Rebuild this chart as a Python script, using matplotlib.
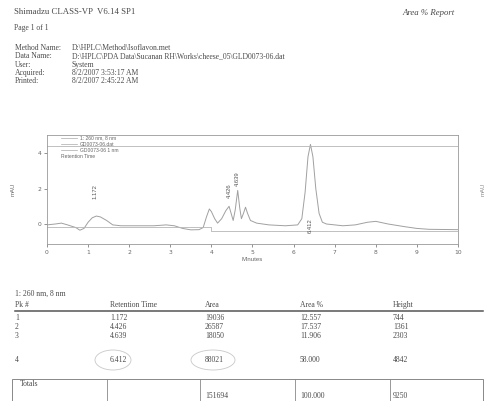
import matplotlib.pyplot as plt
from matplotlib.patches import Rectangle, Ellipse
import numpy as np

# chromatogram trace (minutes, mAU)
trace_t = [0.0, 0.2, 0.35, 0.5, 0.7, 0.8, 0.9, 1.0, 1.1, 1.2, 1.3, 1.45, 1.6, 1.8,
           2.2, 2.6, 2.9, 3.1, 3.3, 3.5, 3.7, 3.8, 3.88, 3.95, 4.0, 4.08, 4.15, 4.25,
           4.35, 4.43, 4.48, 4.53, 4.58, 4.64, 4.69, 4.73, 4.78, 4.83, 4.88, 4.95,
           5.1, 5.4, 5.8, 6.1, 6.2, 6.28, 6.35, 6.41, 6.47, 6.54, 6.62, 6.7, 6.8,
           7.2, 7.5, 7.8, 8.0, 8.3, 8.7, 9.0, 9.3, 10.0]
trace_v = [-0.05, 0.0, 0.05, -0.05, -0.2, -0.35, -0.25, 0.1, 0.35, 0.45, 0.4, 0.2, -0.05, -0.1,
           -0.1, -0.1, -0.05, -0.1, -0.25, -0.33, -0.32, -0.2, 0.4, 0.85, 0.7, 0.3, 0.05, 0.3,
           0.75, 1.0, 0.6, 0.2, 0.8, 1.9, 0.9, 0.3, 0.6, 0.95, 0.6, 0.2,
           0.05, -0.05, -0.1, -0.05, 0.3, 1.8, 3.8, 4.5, 3.8, 2.0, 0.6, 0.1, 0.0,
           -0.1, -0.05, 0.1, 0.15, 0.0, -0.15, -0.25, -0.3, -0.32]
base_t = [0.0, 4.0, 4.0, 10.0]
base_v = [-0.15, -0.15, -0.38, -0.38]

# peak table
pk_num = ["1", "2", "3", "4"]
pk_rt = [1.172, 4.426, 4.639, 6.412]
pk_area = [19036, 26587, 18050, 88021]
pk_area_pct = [12.557, 17.537, 11.906, 58.000]
pk_height = [744, 1361, 2303, 4842]
pk_label_y = [1.85, 1.9, 2.55, -0.1]

W, H = 485, 401
fig = plt.figure(figsize=(W / 100, H / 100), dpi=100)
fig.patch.set_facecolor("white")
ink = "#4a4a4a"
serif = "Liberation Serif"
sans = "Liberation Sans"


def put(x, y, s, size=5.5, **kw):
    kw.setdefault("family", serif)
    kw.setdefault("color", ink)
    kw.setdefault("va", "center")
    fig.text(x / W, 1 - y / H, s, fontsize=size, **kw)


# header
put(14, 12, "Shimadzu CLASS-VP  V6.14 SP1", size=6.3)
put(402, 13, "Area % Report", size=6.3, style="italic")
put(14, 28, "Page 1 of 1", size=5.5)
labels = ["Method Name:", "Data Name:", "User:", "Acquired:", "Printed:"]
values = ["D:\\HPLC\\Method\\Isoflavon.met",
          "D:\\HPLC\\PDA Data\\Sucanan RH\\Works\\cheese_05\\GLD0073-06.dat",
          "System", "8/2/2007 3:53:17 AM", "8/2/2007 2:45:22 AM"]
for i, (a, b) in enumerate(zip(labels, values)):
    put(15, 48 + i * 8.3, a, size=5.5)
    put(72, 48 + i * 8.3, b, size=5.5)

# chromatogram
ax = fig.add_axes([47 / W, 1 - 244 / H, (458 - 47) / W, (244 - 135) / H])
ax.plot(trace_t, trace_v, color="#a0a0a0", lw=0.7)
ax.plot(base_t, base_v, color="#b5b5b5", lw=0.6)
ax.axhline(4.4, color="#b5b5b5", lw=0.6)
ax.set_xlim(0, 10)
ax.set_ylim(-1.13, 5.03)
ax.set_xticks(range(11))
ax.set_yticks([0, 2, 4])
ax.tick_params(labelsize=4.3, colors="#666", length=2, width=0.5, pad=2)
ax.tick_params(axis="y", right=True, labelright=True)
for sp in ax.spines.values():
    sp.set_color("#999")
    sp.set_linewidth(0.6)
ax.set_xlabel("Minutes", fontsize=4.3, color="#666", family=sans, labelpad=2)
ax.set_ylabel("mAU", fontsize=4.3, color="#666", family=sans, labelpad=16)
ax2 = ax.twinx()
ax2.set_ylim(ax.get_ylim())
ax2.set_yticks([])
ax2.set_ylabel("mAU", fontsize=4.3, color="#888", family=sans, labelpad=16)
for sp in ax2.spines.values():
    sp.set_visible(False)
for t, y in zip(pk_rt, pk_label_y):
    ax.text(t, y, f"{t:.3f}", rotation=90, fontsize=4.2, color="#555",
            ha="center", va="center", family=sans)

# legend block
leg = ["1: 260 nm, 8 nm", "GD0073-06.dat", "GD0073-06 1 nm", "Retention Time"]
for i, s in enumerate(leg):
    yy = 0.97 - i * 0.055
    xx = 0.08 if i < 3 else 0.035
    ax.text(xx, yy, s, transform=ax.transAxes, fontsize=3.6, color="#666",
            family=sans, va="center")
    if i < 3:
        ax.plot([0.035, 0.072], [yy, yy], transform=ax.transAxes,
                color="#aaa", lw=0.5)

# peak table
put(15, 294, "1: 260 nm, 8 nm", size=5.5)
cols_x = [15, 110, 205, 300, 393]
heads = ["Pk #", "Retention Time", "Area", "Area %", "Height"]
for x, h in zip(cols_x, heads):
    put(x, 305, h, size=5.5)
fig.add_artist(plt.Line2D([15 / W, 483 / W], [1 - 311 / H, 1 - 311 / H],
                          color="#555", lw=1.1))
rows_y = [318, 327, 336, 360]
for i, y in enumerate(rows_y):
    put(cols_x[0], y, pk_num[i])
    put(cols_x[1], y, f"{pk_rt[i]:.3f}")
    put(cols_x[2], y, f"{pk_area[i]}")
    put(cols_x[3], y, f"{pk_area_pct[i]:.3f}")
    put(cols_x[4], y, f"{pk_height[i]}")

# hand drawn circles
for cx, w in [(113, 36), (213, 44)]:
    fig.add_artist(Ellipse((cx / W, 1 - 360 / H), w / W, 20 / H,
                           fill=False, ec="#c8c8c8", lw=0.6))

# totals box
fig.add_artist(Rectangle((12 / W, 1 - 410 / H), 471 / W, 31 / H,
                         fill=False, ec="#888", lw=0.7))
for x in [107, 200, 295, 390]:
    fig.add_artist(plt.Line2D([x / W, x / W], [1 - 379 / H, 0],
                              color="#888", lw=0.6))
put(20, 384, "Totals", size=5.5)
put(205, 396, f"{sum(pk_area)}")
put(300, 396, f"{sum(pk_area_pct):.3f}")
put(393, 396, f"{sum(pk_height)}")

fig.savefig("out.png", dpi=100)
